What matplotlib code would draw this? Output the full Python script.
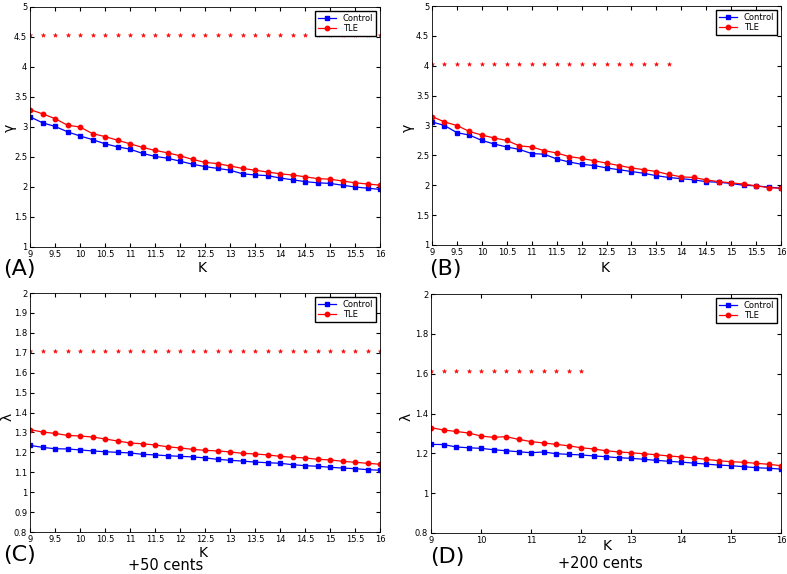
import numpy as np
import matplotlib
matplotlib.use("Agg")
from matplotlib import pyplot as plt

k = np.arange(9, 16.01, 0.25)

# (A) gamma, +50 cents
gamma_ctrl_a = [3.17, 3.07, 3.01, 2.92, 2.85, 2.79, 2.72, 2.67, 2.63, 2.56, 2.51, 2.48, 2.43, 2.38, 2.34,
                2.31, 2.28, 2.22, 2.20, 2.19, 2.15, 2.12, 2.09, 2.07, 2.06, 2.03, 2.00, 1.98, 1.96]
gamma_tle_a = [3.29, 3.22, 3.14, 3.03, 3.00, 2.89, 2.84, 2.78, 2.72, 2.66, 2.61, 2.57, 2.52, 2.46, 2.41,
               2.39, 2.35, 2.31, 2.28, 2.25, 2.22, 2.20, 2.17, 2.14, 2.13, 2.10, 2.07, 2.05, 2.03]
star_k_a = k
star_y_a = 4.53

# (B) gamma, +200 cents
gamma_ctrl_b = [3.06, 3.00, 2.88, 2.84, 2.75, 2.69, 2.64, 2.60, 2.53, 2.52, 2.44, 2.39, 2.35, 2.33, 2.29,
                2.26, 2.23, 2.20, 2.16, 2.13, 2.11, 2.09, 2.06, 2.05, 2.03, 2.00, 1.99, 1.97, 1.95]
gamma_tle_b = [3.15, 3.06, 3.00, 2.90, 2.84, 2.79, 2.75, 2.66, 2.64, 2.58, 2.54, 2.48, 2.45, 2.41, 2.37,
               2.33, 2.29, 2.26, 2.23, 2.18, 2.14, 2.13, 2.09, 2.06, 2.04, 2.02, 1.99, 1.96, 1.95]
star_k_b = k[:20]
star_y_b = 4.03

# (C) lambda, +50 cents
lam_ctrl_c = [1.235, 1.225, 1.218, 1.217, 1.212, 1.207, 1.203, 1.200, 1.197, 1.190, 1.187, 1.183, 1.180,
              1.177, 1.172, 1.165, 1.160, 1.156, 1.151, 1.148, 1.145, 1.138, 1.133, 1.130, 1.125, 1.121,
              1.118, 1.113, 1.110]
lam_tle_c = [1.314, 1.302, 1.295, 1.285, 1.282, 1.277, 1.267, 1.257, 1.247, 1.243, 1.237, 1.228, 1.222,
             1.215, 1.210, 1.207, 1.202, 1.195, 1.192, 1.187, 1.180, 1.175, 1.172, 1.165, 1.162, 1.155,
             1.150, 1.145, 1.140]
star_k_c = k
star_y_c = 1.71

# (D) lambda, +200 cents
lam_ctrl_d = [1.245, 1.244, 1.232, 1.228, 1.225, 1.218, 1.213, 1.208, 1.203, 1.207, 1.198, 1.195, 1.192,
              1.187, 1.183, 1.178, 1.175, 1.170, 1.165, 1.160, 1.156, 1.151, 1.146, 1.141, 1.138, 1.133,
              1.128, 1.125, 1.121]
lam_tle_d = [1.329, 1.317, 1.310, 1.302, 1.287, 1.280, 1.284, 1.270, 1.259, 1.252, 1.245, 1.238, 1.228,
             1.222, 1.213, 1.207, 1.203, 1.198, 1.193, 1.187, 1.182, 1.177, 1.170, 1.163, 1.158, 1.155,
             1.150, 1.145, 1.138]
star_k_d = k[:13]
star_y_d = 1.612

W, H = 787, 574
fig = plt.figure(figsize=(W / 100, H / 100), dpi=100)
plt.rcParams['font.family'] = ['DejaVu Sans']


def box(left, top, right, bottom):
    return [left / W, 1 - bottom / H, (right - left) / W, (bottom - top) / H]


def ftext(x, y, s, size, **kw):
    fig.text(x / W, 1 - y / H, s, fontsize=size, va="center", **kw)


def panel(rect, ctrl, tle, sk, sy, ylim, yticks, xticks):
    ax = fig.add_axes(rect)
    ax.plot(k, ctrl, "-s", color="blue", lw=0.9, markersize=3.5, label="Control")
    ax.plot(k, tle, "-o", color="red", lw=0.9, markersize=3.2, label="TLE")
    ax.plot(sk, [sy] * len(sk), "*", color="red", markersize=3.2, markeredgewidth=0.3,
            linestyle="none")
    ax.set_xlim(9, 16)
    ax.set_ylim(*ylim)
    ax.set_xticks(xticks)
    ax.set_xticklabels(["%g" % t for t in xticks])
    ax.set_yticks(yticks)
    ax.set_yticklabels(["%g" % round(t, 2) for t in yticks])
    ax.tick_params(direction="in", top=True, right=True, labelsize=6, length=3, pad=2)
    for s in ax.spines.values():
        s.set_linewidth(0.6)
    ax.legend(loc="upper right", fontsize=6, handlelength=2.2, borderpad=0.3,
              labelspacing=0.2, fancybox=False, edgecolor="black", framealpha=1)
    return ax


xt_half = np.arange(9, 16.01, 0.5)
xt_one = np.arange(9, 16.01, 1)

panel(box(30, 7, 380, 247), gamma_ctrl_a, gamma_tle_a, star_k_a, star_y_a,
      (1, 5), np.arange(1, 5.01, 0.5), xt_half)
panel(box(432, 6, 781, 245), gamma_ctrl_b, gamma_tle_b, star_k_b, star_y_b,
      (1, 5), np.arange(1, 5.01, 0.5), xt_half)
panel(box(30, 293, 380, 532), lam_ctrl_c, lam_tle_c, star_k_c, star_y_c,
      (0.8, 2), np.arange(0.8, 2.001, 0.1), xt_half)
panel(box(431, 294, 781, 533), lam_ctrl_d, lam_tle_d, star_k_d, star_y_d,
      (0.8, 2), np.arange(0.8, 2.001, 0.2), xt_one)

# axis labels
ftext(10, 128, "γ", 10, ha="center", rotation=90)
ftext(408, 128, "γ", 10, ha="center", rotation=90)
ftext(8, 417, "λ", 10, ha="center", rotation=90)
ftext(407, 417, "λ", 10, ha="center", rotation=90)
ftext(202, 268, "K", 10, ha="center")
ftext(605, 268, "K", 10, ha="center")
ftext(203, 553, "K", 10, ha="center")
ftext(607, 546, "K", 10, ha="center")

# panel tags and captions
ftext(3, 269, "(A)", 16, ha="left")
ftext(429, 269, "(B)", 16, ha="left")
ftext(3, 555, "(C)", 16, ha="left")
ftext(430, 557, "(D)", 16, ha="left")
ftext(166, 566, "+50 cents", 10.5, ha="center")
ftext(600, 564, "+200 cents", 10.5, ha="center")

fig.savefig("out.png", dpi=100)
